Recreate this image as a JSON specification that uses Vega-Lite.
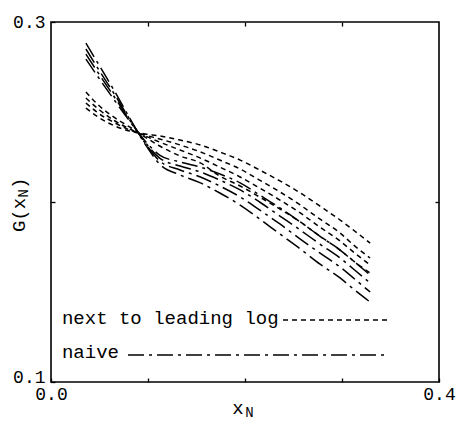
{
  "$schema": "https://vega.github.io/schema/vega-lite/v6.json",
  "width": 388,
  "height": 360,
  "autosize": "none",
  "padding": {"left": 51, "top": 22, "right": 17, "bottom": 39},
  "background": "white",
  "config": {
    "view": {"stroke": "black", "strokeWidth": 1.6},
    "font": "Liberation Mono",
    "axis": {"grid": false, "domain": false, "tickColor": "black", "tickWidth": 1.3, "labelColor": "black", "labelFont": "Liberation Mono", "labelFontSize": 18, "title": null}
  },
  "datasets": {
    "curves": [
      {"s":"D0","t":"nll","x":0.036,"y":0.2611},{"s":"D0","t":"nll","x":0.05,"y":0.2533},{"s":"D0","t":"nll","x":0.066,"y":0.2467},{"s":"D0","t":"nll","x":0.081,"y":0.2417},{"s":"D0","t":"nll","x":0.097,"y":0.2361},{"s":"D0","t":"nll","x":0.112,"y":0.2311},{"s":"D0","t":"nll","x":0.133,"y":0.2256},{"s":"D0","t":"nll","x":0.154,"y":0.2217},{"s":"D0","t":"nll","x":0.174,"y":0.2144},{"s":"D0","t":"nll","x":0.195,"y":0.2089},{"s":"D0","t":"nll","x":0.215,"y":0.2028},{"s":"D0","t":"nll","x":0.236,"y":0.1961},{"s":"D0","t":"nll","x":0.257,"y":0.1889},{"s":"D0","t":"nll","x":0.277,"y":0.1811},{"s":"D0","t":"nll","x":0.298,"y":0.1733},{"s":"D0","t":"nll","x":0.313,"y":0.1667},{"s":"D0","t":"nll","x":0.329,"y":0.1606},
      {"s":"D1","t":"nll","x":0.036,"y":0.2578},{"s":"D1","t":"nll","x":0.05,"y":0.2511},{"s":"D1","t":"nll","x":0.066,"y":0.2450},{"s":"D1","t":"nll","x":0.081,"y":0.2406},{"s":"D1","t":"nll","x":0.097,"y":0.2367},{"s":"D1","t":"nll","x":0.112,"y":0.2333},{"s":"D1","t":"nll","x":0.133,"y":0.2289},{"s":"D1","t":"nll","x":0.154,"y":0.2244},{"s":"D1","t":"nll","x":0.174,"y":0.2194},{"s":"D1","t":"nll","x":0.195,"y":0.2139},{"s":"D1","t":"nll","x":0.215,"y":0.2078},{"s":"D1","t":"nll","x":0.236,"y":0.2011},{"s":"D1","t":"nll","x":0.257,"y":0.1939},{"s":"D1","t":"nll","x":0.277,"y":0.1861},{"s":"D1","t":"nll","x":0.298,"y":0.1783},{"s":"D1","t":"nll","x":0.313,"y":0.1717},{"s":"D1","t":"nll","x":0.329,"y":0.1650},
      {"s":"D2","t":"nll","x":0.036,"y":0.2550},{"s":"D2","t":"nll","x":0.05,"y":0.2489},{"s":"D2","t":"nll","x":0.066,"y":0.2439},{"s":"D2","t":"nll","x":0.081,"y":0.2400},{"s":"D2","t":"nll","x":0.097,"y":0.2372},{"s":"D2","t":"nll","x":0.112,"y":0.2350},{"s":"D2","t":"nll","x":0.133,"y":0.2317},{"s":"D2","t":"nll","x":0.154,"y":0.2278},{"s":"D2","t":"nll","x":0.174,"y":0.2233},{"s":"D2","t":"nll","x":0.195,"y":0.2183},{"s":"D2","t":"nll","x":0.215,"y":0.2122},{"s":"D2","t":"nll","x":0.236,"y":0.2056},{"s":"D2","t":"nll","x":0.257,"y":0.1983},{"s":"D2","t":"nll","x":0.277,"y":0.1906},{"s":"D2","t":"nll","x":0.298,"y":0.1828},{"s":"D2","t":"nll","x":0.313,"y":0.1756},{"s":"D2","t":"nll","x":0.329,"y":0.1689},
      {"s":"D3","t":"nll","x":0.036,"y":0.2522},{"s":"D3","t":"nll","x":0.05,"y":0.2467},{"s":"D3","t":"nll","x":0.066,"y":0.2422},{"s":"D3","t":"nll","x":0.081,"y":0.2394},{"s":"D3","t":"nll","x":0.097,"y":0.2378},{"s":"D3","t":"nll","x":0.112,"y":0.2367},{"s":"D3","t":"nll","x":0.133,"y":0.2344},{"s":"D3","t":"nll","x":0.154,"y":0.2317},{"s":"D3","t":"nll","x":0.174,"y":0.2278},{"s":"D3","t":"nll","x":0.195,"y":0.2233},{"s":"D3","t":"nll","x":0.215,"y":0.2178},{"s":"D3","t":"nll","x":0.236,"y":0.2117},{"s":"D3","t":"nll","x":0.257,"y":0.2050},{"s":"D3","t":"nll","x":0.277,"y":0.1978},{"s":"D3","t":"nll","x":0.298,"y":0.1900},{"s":"D3","t":"nll","x":0.313,"y":0.1839},{"s":"D3","t":"nll","x":0.329,"y":0.1772},
      {"s":"N0","t":"naive","x":0.036,"y":0.2883},{"s":"N0","t":"naive","x":0.05,"y":0.2756},{"s":"N0","t":"naive","x":0.066,"y":0.2611},{"s":"N0","t":"naive","x":0.081,"y":0.2467},{"s":"N0","t":"naive","x":0.097,"y":0.2322},{"s":"N0","t":"naive","x":0.112,"y":0.2211},{"s":"N0","t":"naive","x":0.133,"y":0.2150},{"s":"N0","t":"naive","x":0.154,"y":0.2106},{"s":"N0","t":"naive","x":0.174,"y":0.2050},{"s":"N0","t":"naive","x":0.195,"y":0.1983},{"s":"N0","t":"naive","x":0.215,"y":0.1906},{"s":"N0","t":"naive","x":0.236,"y":0.1822},{"s":"N0","t":"naive","x":0.257,"y":0.1739},{"s":"N0","t":"naive","x":0.277,"y":0.1656},{"s":"N0","t":"naive","x":0.298,"y":0.1578},{"s":"N0","t":"naive","x":0.313,"y":0.1511},{"s":"N0","t":"naive","x":0.329,"y":0.1444},
      {"s":"N1","t":"naive","x":0.036,"y":0.2850},{"s":"N1","t":"naive","x":0.05,"y":0.2728},{"s":"N1","t":"naive","x":0.066,"y":0.2594},{"s":"N1","t":"naive","x":0.081,"y":0.2461},{"s":"N1","t":"naive","x":0.097,"y":0.2328},{"s":"N1","t":"naive","x":0.112,"y":0.2228},{"s":"N1","t":"naive","x":0.133,"y":0.2178},{"s":"N1","t":"naive","x":0.154,"y":0.2139},{"s":"N1","t":"naive","x":0.174,"y":0.2089},{"s":"N1","t":"naive","x":0.195,"y":0.2028},{"s":"N1","t":"naive","x":0.215,"y":0.1956},{"s":"N1","t":"naive","x":0.236,"y":0.1878},{"s":"N1","t":"naive","x":0.257,"y":0.1794},{"s":"N1","t":"naive","x":0.277,"y":0.1717},{"s":"N1","t":"naive","x":0.298,"y":0.1639},{"s":"N1","t":"naive","x":0.313,"y":0.1572},{"s":"N1","t":"naive","x":0.329,"y":0.1500},
      {"s":"N2","t":"naive","x":0.036,"y":0.2822},{"s":"N2","t":"naive","x":0.05,"y":0.2706},{"s":"N2","t":"naive","x":0.066,"y":0.2578},{"s":"N2","t":"naive","x":0.081,"y":0.2456},{"s":"N2","t":"naive","x":0.097,"y":0.2333},{"s":"N2","t":"naive","x":0.112,"y":0.2244},{"s":"N2","t":"naive","x":0.133,"y":0.2200},{"s":"N2","t":"naive","x":0.154,"y":0.2167},{"s":"N2","t":"naive","x":0.174,"y":0.2122},{"s":"N2","t":"naive","x":0.195,"y":0.2067},{"s":"N2","t":"naive","x":0.215,"y":0.2000},{"s":"N2","t":"naive","x":0.236,"y":0.1922},{"s":"N2","t":"naive","x":0.257,"y":0.1844},{"s":"N2","t":"naive","x":0.277,"y":0.1767},{"s":"N2","t":"naive","x":0.298,"y":0.1689},{"s":"N2","t":"naive","x":0.313,"y":0.1622},{"s":"N2","t":"naive","x":0.329,"y":0.1550},
      {"s":"N3","t":"naive","x":0.036,"y":0.2794},{"s":"N3","t":"naive","x":0.05,"y":0.2683},{"s":"N3","t":"naive","x":0.066,"y":0.2561},{"s":"N3","t":"naive","x":0.081,"y":0.2450},{"s":"N3","t":"naive","x":0.097,"y":0.2339},{"s":"N3","t":"naive","x":0.112,"y":0.2261},{"s":"N3","t":"naive","x":0.133,"y":0.2222},{"s":"N3","t":"naive","x":0.154,"y":0.2194},{"s":"N3","t":"naive","x":0.174,"y":0.2156},{"s":"N3","t":"naive","x":0.195,"y":0.2106},{"s":"N3","t":"naive","x":0.215,"y":0.2039},{"s":"N3","t":"naive","x":0.236,"y":0.1967},{"s":"N3","t":"naive","x":0.257,"y":0.1889},{"s":"N3","t":"naive","x":0.277,"y":0.1811},{"s":"N3","t":"naive","x":0.298,"y":0.1733},{"s":"N3","t":"naive","x":0.313,"y":0.1667},{"s":"N3","t":"naive","x":0.329,"y":0.1594}
    ],
    "legendLines": [
      {"t":"nll","x":0.2392,"x2":0.3495,"y":0.1344},
      {"t":"naive","x":0.0794,"x2":0.3443,"y":0.115}
    ],
    "legendText": [
      {"label":"next to leading log","x":0.0113,"y":0.1322},
      {"label":"naive","x":0.0113,"y":0.1133}
    ],
    "xTitle": [
      {"label":"x","x":0.1928,"y":0.0825}
    ],
    "xTitleSub": [
      {"label":"N","x":0.2046,"y":0.0808}
    ],
    "yTitle": [
      {"label":"G(x","x":-0.0273,"y":0.1833},
      {"label":")","x":-0.0273,"y":0.2072}
    ],
    "yTitleSub": [
      {"label":"N","x":-0.0232,"y":0.2025}
    ]
  },
  "layer": [
    {
      "data": {"name": "curves"},
      "mark": {"type": "line", "color": "black", "strokeWidth": 1.5, "interpolate": "monotone"},
      "encoding": {
        "x": {"field": "x", "type": "quantitative", "scale": {"domain": [0, 0.4], "nice": false, "zero": false},
              "axis": {"orient": "bottom", "values": [0, 0.1, 0.2, 0.3, 0.4], "tickSize": -4, "labelPadding": 7, "labelFlush": false,
                       "labelExpr": "(datum.value < 0.01 || datum.value > 0.39) ? format(datum.value, '.1f') : ''"}},
        "y": {"field": "y", "type": "quantitative", "scale": {"domain": [0.1, 0.3], "nice": false, "zero": false},
              "axis": {"orient": "left", "values": [0.1, 0.2, 0.3], "tickSize": -4, "labelPadding": 10, "labelFlush": false,
                       "labelBaseline": {"condition": {"test": "datum.value < 0.15", "value": "alphabetic"}, "value": "middle"},
                       "labelExpr": "(datum.value < 0.15 || datum.value > 0.25) ? format(datum.value, '.1f') : ''"}},
        "strokeDash": {"field": "t", "type": "nominal", "scale": {"domain": ["nll", "naive"], "range": [[5, 4], [16, 5, 3, 5]]}, "legend": null},
        "detail": {"field": "s", "type": "nominal"}
      }
    },
    {
      "data": {"name": "legendLines"},
      "mark": {"type": "rule", "color": "black", "strokeWidth": 1.5},
      "encoding": {
        "x": {"field": "x", "type": "quantitative",
              "axis": {"orient": "top", "values": [0.1, 0.2, 0.3], "tickSize": -4, "labels": false}},
        "x2": {"field": "x2"},
        "y": {"field": "y", "type": "quantitative",
              "axis": {"orient": "right", "values": [0.2], "tickSize": -4, "labels": false}},
        "strokeDash": {"field": "t", "type": "nominal", "legend": null}
      }
    },
    {
      "data": {"name": "legendText"},
      "mark": {"type": "text", "font": "Liberation Mono", "fontSize": 19, "color": "black", "baseline": "alphabetic", "align": "left"},
      "encoding": {
        "x": {"field": "x", "type": "quantitative", "axis": null},
        "y": {"field": "y", "type": "quantitative", "axis": null},
        "text": {"field": "label"}
      }
    },
    {
      "data": {"name": "xTitle"},
      "mark": {"type": "text", "font": "Liberation Mono", "fontSize": 19, "color": "black", "baseline": "alphabetic", "align": "center"},
      "encoding": {
        "x": {"field": "x", "type": "quantitative", "axis": null},
        "y": {"field": "y", "type": "quantitative", "axis": null},
        "text": {"field": "label"}
      }
    },
    {
      "data": {"name": "xTitleSub"},
      "mark": {"type": "text", "font": "Liberation Mono", "fontSize": 14, "color": "black", "baseline": "alphabetic", "align": "center"},
      "encoding": {
        "x": {"field": "x", "type": "quantitative", "axis": null},
        "y": {"field": "y", "type": "quantitative", "axis": null},
        "text": {"field": "label"}
      }
    },
    {
      "data": {"name": "yTitle"},
      "mark": {"type": "text", "font": "Liberation Mono", "fontSize": 19, "color": "black", "baseline": "alphabetic", "align": "left", "angle": 270},
      "encoding": {
        "x": {"field": "x", "type": "quantitative", "axis": null},
        "y": {"field": "y", "type": "quantitative", "axis": null},
        "text": {"field": "label"}
      }
    },
    {
      "data": {"name": "yTitleSub"},
      "mark": {"type": "text", "font": "Liberation Mono", "fontSize": 14, "color": "black", "baseline": "alphabetic", "align": "left", "angle": 270},
      "encoding": {
        "x": {"field": "x", "type": "quantitative", "axis": null},
        "y": {"field": "y", "type": "quantitative", "axis": null},
        "text": {"field": "label"}
      }
    }
  ],
  "resolve": {"axis": {"x": "independent", "y": "independent"}}
}
